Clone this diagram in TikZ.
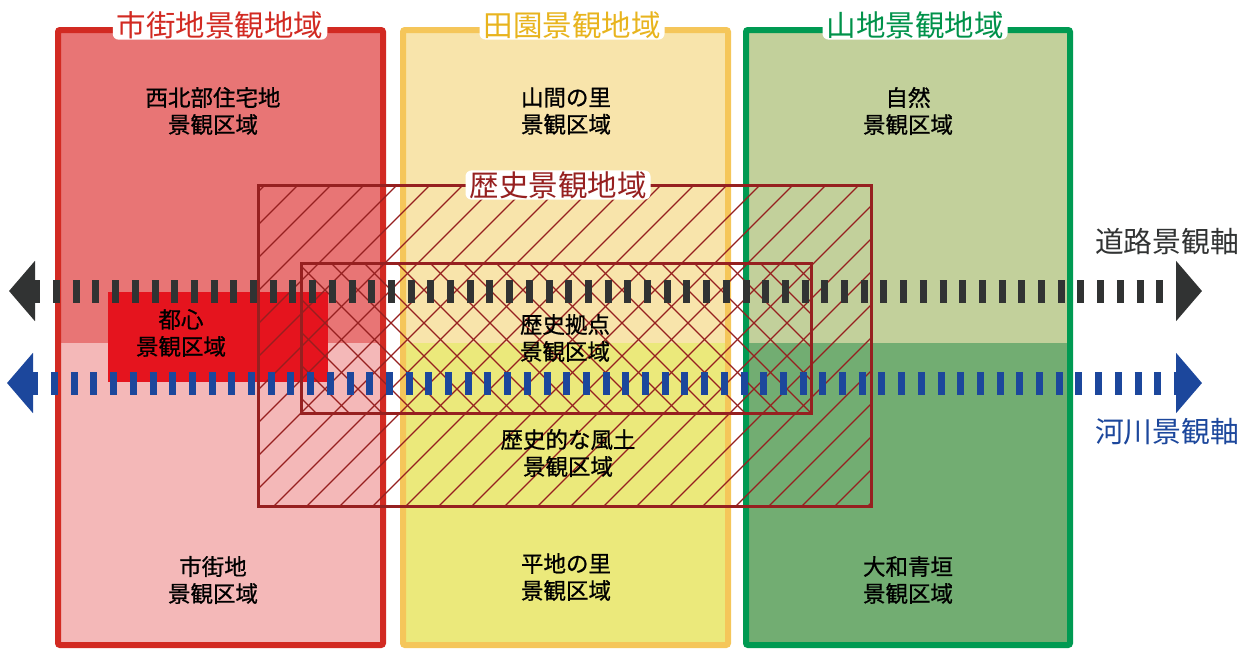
\documentclass[tikz,border=0pt]{standalone}
\usepackage{fontspec}
\newfontfamily\jp{Noto Sans CJK JP}
\newfontfamily\jpm[FakeBold=0.8]{Noto Sans CJK JP}
\usetikzlibrary{arrows.meta}
\definecolor{redB}{HTML}{D22A22}
\definecolor{redU}{HTML}{E87575}
\definecolor{redL}{HTML}{F4B8B8}
\definecolor{redC}{HTML}{E5141E}
\definecolor{yelB}{HTML}{F5C65A}
\definecolor{yelT}{HTML}{E8B41E}
\definecolor{yelU}{HTML}{F8E4AB}
\definecolor{yelL}{HTML}{EBE97B}
\definecolor{grnB}{HTML}{009A52}
\definecolor{grnT}{HTML}{00924A}
\definecolor{grnU}{HTML}{C2D09B}
\definecolor{grnL}{HTML}{72AD72}
\definecolor{hist}{HTML}{962020}
\definecolor{roadc}{HTML}{313333}
\definecolor{riverc}{HTML}{1C479C}
\begin{document}
\begin{tikzpicture}[x=1pt,y=-1pt,
  zonebox/.style={line width=6pt, rounded corners=2pt},
  histbox/.style={draw=hist, line width=3pt},
  hatchline/.style={draw=hist, line width=1.3pt},
  lbl/.style={font=\jpm\fontsize{22.5}{27}\selectfont, align=center, text=black, inner sep=0pt},
  ttl/.style={font=\jp\fontsize{29.5}{30}\selectfont, fill=white, rounded corners=6pt, inner xsep=4pt, inner ysep=1pt},
  axlbl/.style={font=\jp\fontsize{28.8}{30}\selectfont, inner sep=0pt},
  axis/.style={line width=23pt, dash pattern=on 7pt off 12.7pt},
  bighead/.tip={Triangle[length=26pt,width=59pt]}]
\useasboundingbox (0,0) rectangle (1250,649);
% zone fills
\fill[redU] (58,30) rectangle (383,343);
\fill[redL] (58,343) rectangle (383,645);
\fill[yelU] (403,30) rectangle (728,343);
\fill[yelL] (403,343) rectangle (728,645);
\fill[grnU] (746,30) rectangle (1070,343);
\fill[grnL] (746,343) rectangle (1070,645);
% toshin
\fill[redC] (108,292) rectangle (328,382);
% zone borders
\draw[zonebox, redB] (58,30) rectangle (383,645);
\draw[zonebox, yelB] (403,30) rectangle (728,645);
\draw[zonebox, grnB] (746,30) rectangle (1070,645);
% hatching
\begin{scope}
  \clip (258,185) rectangle (871,506);
  \foreach \c in {450,483,...,1400} \draw[hatchline] ({\c-185},185) -- ({\c-506},506);
\end{scope}
\begin{scope}
  \clip (301,263) rectangle (811,413);
  \foreach \c in {-130,-97,...,560} \draw[hatchline] ({\c+263},263) -- ({\c+413},413);
\end{scope}
\draw[histbox] (258,185) rectangle (871,506);
\draw[histbox] (301,263) rectangle (811,413);
% axes
\coordinate (roadL) at (9,291);
\coordinate (roadR) at (1202,291);
\coordinate (rivL) at (7,383);
\coordinate (rivR) at (1202,383);
\draw[axis, roadc, bighead-bighead] (roadL) -- (roadR);
\draw[axis, riverc, bighead-bighead] (rivL) -- (rivR);
% titles
\node[ttl, text=redB] (t1) at (220,25) {市街地景観地域};
\node[ttl, text=yelT] (t2) at (572,25) {田園景観地域};
\node[ttl, text=grnT] (t3) at (915,25) {山地景観地域};
\node[ttl, text=hist] (t4) at (558,185) {歴史景観地域};
% labels
\node[lbl] (l1) at (213,111) {西北部住宅地\\景観区域};
\node[lbl] (l2) at (566,111) {山間の里\\景観区域};
\node[lbl] (l3) at (908,111) {自然\\景観区域};
\node[lbl] (l4) at (181,333) {都心\\景観区域};
\node[lbl] (l5) at (565,338) {歴史拠点\\景観区域};
\node[lbl] (l6) at (568,453) {歴史的な風土\\景観区域};
\node[lbl] (l7) at (213,580) {市街地\\景観区域};
\node[lbl] (l8) at (566,577) {平地の里\\景観区域};
\node[lbl] (l9) at (908,580) {大和青垣\\景観区域};
% axis labels
\node[axlbl, text=roadc] (a1) at (1167,242) {道路景観軸};
\node[axlbl, text=riverc] (a2) at (1167,432) {河川景観軸};
\end{tikzpicture}
\end{document}
